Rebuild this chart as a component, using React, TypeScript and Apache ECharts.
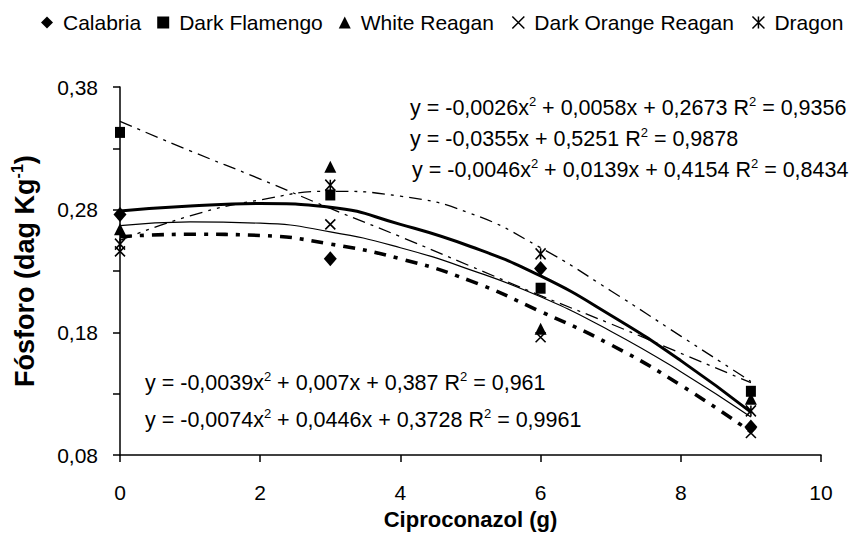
import React, { useEffect, useRef } from "react";
import * as echarts from "echarts";

// ---- data ----
const doses = [0, 3, 6, 9];
const calabria = [0.276, 0.24, 0.232, 0.103];
const darkFlamengo = [0.343, 0.292, 0.216, 0.132];
const whiteReagan = [0.264, 0.315, 0.183, 0.126];
const darkOrangeReagan = [0.246, 0.268, 0.176, 0.098];
const dragon = [0.252, 0.3, 0.244, 0.116];

// trendlines, read at each integer dose
const trendX = [0, 1, 2, 3, 4, 5, 6, 7, 8, 9];
const trendCalabria = [0.267, 0.270, 0.269, 0.262, 0.249, 0.231, 0.209, 0.181, 0.148, 0.111];
const trendFlamengo = [0.352, 0.328, 0.305, 0.281, 0.258, 0.234, 0.210, 0.187, 0.163, 0.139];
const trendWhite = [0.279, 0.283, 0.285, 0.282, 0.268, 0.25, 0.226, 0.194, 0.157, 0.115];
const trendOrange = [0.258, 0.26, 0.259, 0.252, 0.24, 0.222, 0.197, 0.17, 0.137, 0.099];
const trendDragon = [0.255, 0.275, 0.288, 0.295, 0.291, 0.277, 0.249, 0.214, 0.177, 0.14];

const seriesNames = ["Calabria", "Dark Flamengo", "White Reagan", "Dark Orange Reagan", "Dragon"];

const eqTop = [
  "y = -0,0026x{s|2} + 0,0058x + 0,2673 R{s|2} = 0,9356",
  "y = -0,0355x + 0,5251 R{s|2} = 0,9878",
  "y = -0,0046x{s|2} + 0,0139x + 0,4154 R{s|2} = 0,8434",
];
const eqBottom = [
  "y = -0,0039x{s|2} + 0,007x + 0,387 R{s|2} = 0,961",
  "y = -0,0074x{s|2} + 0,0446x + 0,3728 R{s|2} = 0,9961",
];

const FONT = "'Liberation Sans', Arial, Helvetica, sans-serif";
const X_PATH = "path://M0,0L10,10M10,0L0,10";
const STAR_PATH = "path://M0,0L10,10M10,0L0,10M5,0L5,10";

const pairs = (xs: number[], ys: number[]) => xs.map((x, i) => [x, ys[i]]);

export default function App() {
  const ref = useRef<HTMLDivElement>(null);
  useEffect(() => {
    document.body.style.margin = "0";
    if (!ref.current) return;
    const chart = echarts.init(ref.current, null, { renderer: "svg" });

    const markerDefs = [
      { name: seriesNames[0], data: calabria, symbol: "diamond", size: [13, 15], stroke: false },
      { name: seriesNames[1], data: darkFlamengo, symbol: "rect", size: [10, 11], stroke: false },
      { name: seriesNames[2], data: whiteReagan, symbol: "triangle", size: [12, 12], stroke: false },
      { name: seriesNames[3], data: darkOrangeReagan, symbol: X_PATH, size: [10, 10], stroke: true },
      { name: seriesNames[4], data: dragon, symbol: STAR_PATH, size: [10, 11], stroke: true },
    ];

    const markerSeries = markerDefs.map((m) => ({
      type: "scatter",
      name: m.name,
      symbol: m.symbol,
      symbolSize: m.size,
      z: 5,
      itemStyle: m.stroke
        ? { color: "none", borderColor: "#000", borderWidth: 1.6, opacity: 1 }
        : { color: "#000", borderWidth: 0, opacity: 1 },
      data: pairs(doses, m.data),
    }));

    const trendDefs = [
      { id: "tC", data: trendCalabria, width: 1.2, type: "solid" as any },
      { id: "tF", data: trendFlamengo, width: 1.3, type: [13, 6, 3, 6] },
      { id: "tW", data: trendWhite, width: 3, type: "solid" as any },
      { id: "tO", data: trendOrange, width: 3.6, type: [12, 8, 4, 8] },
      { id: "tD", data: trendDragon, width: 1.3, type: [13, 6, 3, 6, 3, 6] },
    ];
    const trendSeries = trendDefs.map((t) => ({
      type: "line",
      name: t.id,
      smooth: true,
      showSymbol: false,
      silent: true,
      z: 3,
      lineStyle: { color: "#000", width: t.width, type: t.type },
      data: pairs(trendX, t.data),
    }));

    const eqText = (txt: string, x: number, y: number) => ({
      type: "text",
      x,
      y,
      silent: true,
      style: {
        text: txt,
        fill: "#000",
        fontFamily: FONT,
        fontSize: 21.5,
        lineHeight: 26,
        verticalAlign: "middle",
        rich: {
          s: { fontSize: 13, fontFamily: FONT, fill: "#000", verticalAlign: "top", lineHeight: 13 },
        },
      },
    });

    chart.setOption({
      animation: false,
      backgroundColor: "#fff",
      textStyle: { fontFamily: FONT, color: "#000" },
      legend: {
        data: markerDefs.map((m) => ({
          name: m.name,
          icon: m.symbol,
          itemStyle: m.stroke
            ? { color: "none", borderColor: "#000", borderWidth: 1.5, opacity: 1 }
            : { color: "#000", borderWidth: 0, opacity: 1 },
        })),
        top: 7,
        left: 36,
        itemWidth: 12,
        itemHeight: 12,
        itemGap: 16,
        textStyle: { fontFamily: FONT, fontSize: 21, color: "#000", padding: [0, 0, 0, 5] },
      },
      grid: { left: 120, right: 31, top: 87, bottom: 76 },
      xAxis: {
        type: "value",
        min: 0,
        max: 10,
        interval: 2,
        name: "Ciproconazol (g)",
        nameLocation: "middle",
        nameGap: 52,
        nameTextStyle: { fontFamily: FONT, fontSize: 22, fontWeight: "bold", color: "#000" },
        axisLine: { lineStyle: { color: "#000", width: 1.5 } },
        axisTick: { show: true, inside: false, length: 7, lineStyle: { color: "#000", width: 1.5 } },
        axisLabel: {
          fontFamily: FONT,
          fontSize: 21,
          color: "#000",
          margin: 27,
        },
        splitLine: { show: false },
      },
      yAxis: {
        type: "value",
        min: 0.08,
        max: 0.38,
        interval: 0.05,
        name: "Fósforo (dag Kg{s|-1})",
        nameLocation: "middle",
        nameGap: 79,
        nameRotate: 90,
        nameTextStyle: {
          fontFamily: FONT,
          fontSize: 27,
          fontWeight: "bold",
          color: "#000",
          lineHeight: 32,
          rich: {
            s: { fontFamily: FONT, fontSize: 16, fontWeight: "bold", color: "#000", verticalAlign: "top", lineHeight: 16 },
          },
        },
        axisLine: { show: true, lineStyle: { color: "#000", width: 1.5 } },
        axisTick: { show: true, inside: false, length: 7, lineStyle: { color: "#000", width: 1.5 } },
        axisLabel: {
          fontFamily: FONT,
          fontSize: 21,
          color: "#000",
          margin: 22,
          formatter: (v: number) => {
            const k = Math.round((v - 0.08) / 0.05);
            return k % 2 === 0 ? v.toFixed(2).replace(".", ",") : "";
          },
        },
        splitLine: { show: false },
      },
      graphic: [
        eqText(eqTop[0], 410, 108),
        eqText(eqTop[1], 410, 139),
        eqText(eqTop[2], 412, 170),
        eqText(eqBottom[0], 145, 383),
        eqText(eqBottom[1], 145, 420),
      ],
      series: [...trendSeries, ...markerSeries],
    });

    return () => chart.dispose();
  }, []);

  return <div ref={ref} style={{ width: 852, height: 535 }} />;
}
